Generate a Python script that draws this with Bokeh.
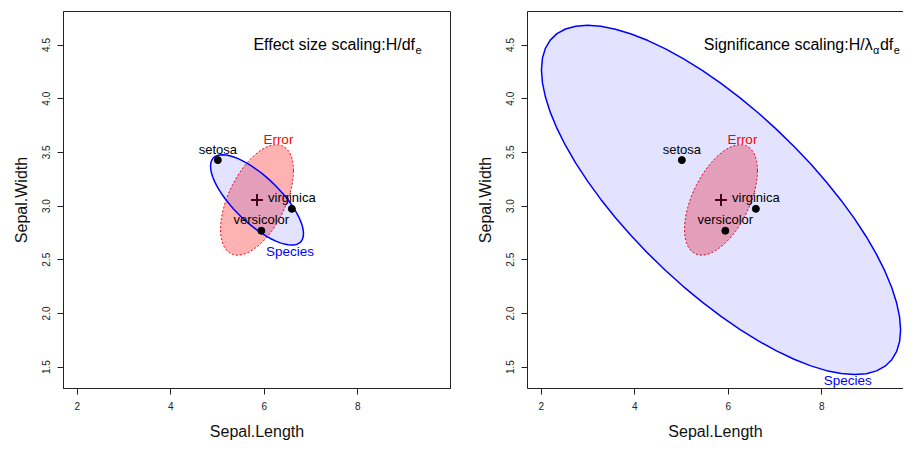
import numpy as np
from bokeh.plotting import figure
from bokeh.layouts import row
from bokeh.models import Range1d, LinearAxis, FixedTicker, PrintfTickFormatter, Label, ColumnDataSource
from bokeh.core.properties import value
from bokeh.embed import file_html
from bokeh.resources import INLINE

# ---- data (iris MANOVA, Sepal.Length x Sepal.Width) ----
species = ["setosa", "versicolor", "virginica"]
mean_sl = [5.006, 5.936, 6.588]
mean_sw = [3.428, 2.770, 2.974]
grand_mean = [5.8433, 3.0573]
E_mat = [[38.9562, 13.6300], [13.6300, 16.9620]]
H_mat = [[63.2121, -19.9527], [-19.9527, 11.3449]]
df_e = 147
radius = 1.5155          # sqrt(2*qf(0.68, 2, dfe))
lambda_alpha = 0.067     # significance scaling factor
x_ticks = [2, 4, 6, 8]
y_ticks = [1.5, 2.0, 2.5, 3.0, 3.5, 4.0, 4.5]

FONT = "Liberation Sans"
AX = "#222222"


def ellipse(center, shape, r, n=60):
    t = np.linspace(0, 2 * np.pi, n + 1)
    L = np.linalg.cholesky(np.array(shape))
    pts = (L @ np.vstack([np.cos(t), np.sin(t)])) * r
    return center[0] + pts[0], center[1] + pts[1]


def style_axis(ax, ticks, fmt):
    ax.ticker = FixedTicker(ticks=ticks)
    ax.formatter = PrintfTickFormatter(format=fmt)
    ax.minor_tick_line_color = None
    ax.major_tick_out = 6
    ax.major_tick_in = 0
    ax.major_tick_line_color = AX
    ax.axis_line_color = AX
    ax.major_label_text_font = FONT
    ax.major_label_text_font_size = "10px"
    ax.major_label_text_color = "#222222"
    ax.major_label_standoff = 7
    ax.axis_label_text_font = FONT
    ax.axis_label_text_font_size = "16px"
    ax.axis_label_text_font_style = "normal"
    ax.axis_label_text_color = "#111111"
    ax.axis_label_standoff = 10


def make_panel(width, border_left, border_right, x_end, h_div, boxed):
    p = figure(width=width, height=442,
               x_range=Range1d(1.706, x_end), y_range=Range1d(1.301, 4.812),
               output_backend="svg", toolbar_location=None,
               min_border_left=border_left, min_border_right=border_right,
               min_border_top=11, min_border_bottom=52,
               x_axis_label="Sepal.Length", y_axis_label="Sepal.Width")
    p.xgrid.visible = False
    p.ygrid.visible = False
    p.background_fill_color = "white"
    p.border_fill_color = "white"
    style_axis(p.xaxis[0], x_ticks, "%d")
    style_axis(p.yaxis[0], y_ticks, "%.1f")
    p.yaxis[0].major_label_orientation = "vertical"
    if boxed:
        p.outline_line_color = AX
        p.outline_line_width = 1
        p.outline_line_alpha = 1
    else:
        p.outline_line_color = None
        top = LinearAxis(ticker=FixedTicker(ticks=[]), axis_line_color=AX,
                         major_tick_line_color=None, minor_tick_line_color=None,
                         major_label_text_font_size="0px")
        p.add_layout(top, "above")

    # grand mean (drawn first, under the translucent ellipses)
    p.scatter([grand_mean[0]], [grand_mean[1]], marker="cross", size=12,
              line_color="black", line_width=2)

    ex, ey = ellipse(grand_mean, np.array(E_mat) / df_e, radius)
    p.patch(ex, ey, fill_color="red", fill_alpha=0.3, line_color="red",
            line_dash="2 2", line_width=1)
    hx, hy = ellipse(grand_mean, np.array(H_mat) / df_e / h_div, radius)
    p.patch(hx, hy, fill_color="blue", fill_alpha=0.11, line_color="blue",
            line_width=1.5)

    src = ColumnDataSource(dict(x=mean_sl, y=mean_sw, name=species))
    p.scatter("x", "y", source=src, size=7, color="black")
    p.text("x", "y", text="name", source=src, text_align="center",
           text_baseline="middle", y_offset=-11, text_font=value(FONT),
           text_font_size="13px", text_color="black")
    return p


left = make_panel(470, 63, 20, 9.98, 1.0, True)
right = make_panel(433, 57, 0, 1.706 + 376 / 387 * (9.98 - 1.706), lambda_alpha, False)

lab = dict(text_font=FONT, text_baseline="middle")

# left annotations
left.add_layout(Label(x=6.30, y=3.624, text="Error", text_color="red",
                      text_align="center", text_font_size="13.5px", **lab))
left.add_layout(Label(x=6.548, y=2.581, text="Species", text_color="blue",
                      text_align="center", text_font_size="13.5px", **lab))
left.add_layout(Label(x=9.221, y=4.503, text="Effect size scaling:H/df",
                      text_align="right", text_font_size="16px", text_color="black", **lab))
left.add_layout(Label(x=9.232, y=4.457, text="e", text_align="left",
                      text_font_size="11px", text_color="black", **lab))

# right annotations
right.add_layout(Label(x=6.30, y=3.624, text="Error", text_color="red",
                       text_align="center", text_font_size="13.5px", **lab))
right.add_layout(Label(x=8.555, y=1.374, text="Species", text_color="blue",
                       text_align="center", text_font_size="13.5px", **lab))
right.add_layout(Label(x=9.086, y=4.503, text="Significance scaling:H/λ",
                       text_align="right", text_font_size="16px", text_color="black", **lab))
right.add_layout(Label(x=9.092, y=4.457, text="α", text_align="left",
                       text_font_size="11px", text_color="black", **lab))
right.add_layout(Label(x=9.240, y=4.503, text="df", text_align="left",
                       text_font_size="16px", text_color="black", **lab))
right.add_layout(Label(x=9.535, y=4.457, text="e", text_align="left",
                       text_font_size="11px", text_color="black", **lab))

page = row(left, right)
open("out.html", "w").write(file_html(page, INLINE))
